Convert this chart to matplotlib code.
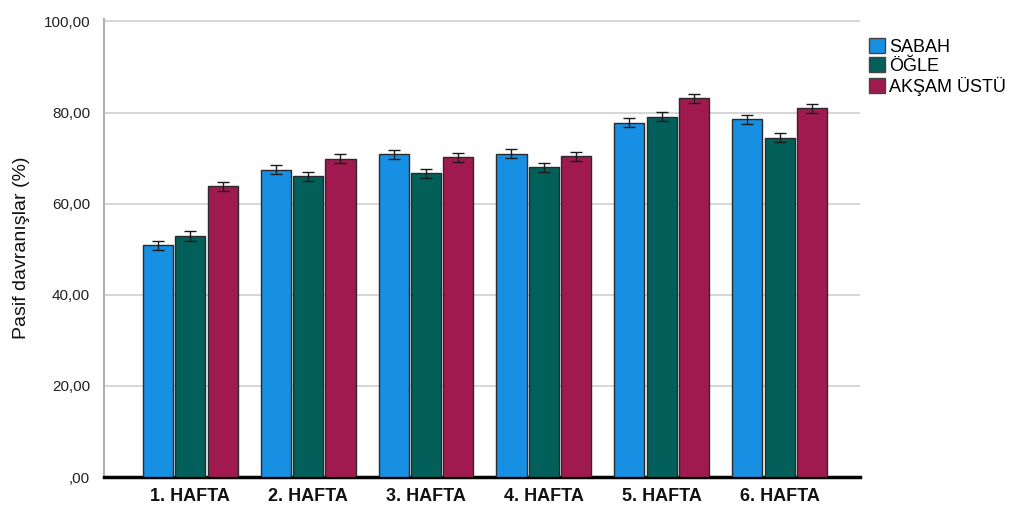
import matplotlib
matplotlib.use('Agg')
import matplotlib.pyplot as plt
import numpy as np

plt.rcParams['font.family'] = ['Liberation Sans', 'DejaVu Sans']

weeks = ['1. HAFTA', '2. HAFTA', '3. HAFTA', '4. HAFTA', '5. HAFTA', '6. HAFTA']
groups = ['SABAH', 'ÖĞLE', 'AKŞAM ÜSTÜ']
sabah = [50.9, 67.5, 70.8, 71.0, 77.8, 78.5]
ogle = [52.9, 66.0, 66.7, 68.0, 79.1, 74.5]
aksam = [63.8, 69.9, 70.2, 70.4, 83.1, 80.9]
err_sabah = [1.0, 1.0, 1.0, 1.0, 1.0, 1.0]
err_ogle = [1.0, 1.0, 1.0, 1.0, 1.0, 1.0]
err_aksam = [1.0, 1.0, 1.0, 1.0, 1.0, 1.0]

colors = ['#1790e4', '#035f59', '#a01a50']

fig = plt.figure(figsize=(10.14, 5.05), dpi=100)
ax = fig.add_axes([0.1026, 0.0554, 0.7455, 0.9066])

x = np.arange(len(weeks))
step = 0.275
width = 0.255
series = [(sabah, err_sabah), (ogle, err_ogle), (aksam, err_aksam)]
for i, (vals, errs) in enumerate(series):
    pos = x + (i - 1) * step
    ax.bar(pos, vals, width, color=colors[i], edgecolor='#2a2a2a', linewidth=1.0,
           label=groups[i], zorder=3)
    ax.errorbar(pos, vals, yerr=errs, fmt='none', ecolor='#1a1a1a', elinewidth=1.0,
                capsize=4, capthick=1.0, zorder=4)

ax.set_xlim(-0.73, 5.68)
ax.set_ylim(0, 100.5)
ax.set_yticks([0, 20, 40, 60, 80, 100])
ax.set_yticklabels([',00', '20,00', '40,00', '60,00', '80,00', '100,00'], fontsize=11, color='#222222')
ax.set_xticks(x)
ax.set_xticklabels(weeks, fontsize=13, fontweight='bold', color='#111111')
ax.tick_params(axis='x', length=0, pad=8)
ax.tick_params(axis='y', length=0, pad=10)
ax.yaxis.grid(True, color='#cfcfcf', linewidth=1.2, zorder=0)
ax.set_axisbelow(True)

for s in ['top', 'right']:
    ax.spines[s].set_visible(False)
ax.spines['left'].set_color('#b0b0b0')
ax.spines['left'].set_linewidth(1.5)
ax.spines['bottom'].set_color('black')
ax.spines['bottom'].set_linewidth(2.5)

ax.set_ylabel('Pasif davranışlar (%)', fontsize=14, color='#111111', labelpad=10)

leg = ax.legend(loc='upper left', bbox_to_anchor=(1.002, 0.975), frameon=False,
                fontsize=13, handlelength=0.9, handleheight=0.9, handletextpad=0.25,
                labelspacing=0.1, borderaxespad=0)
for h in leg.legend_handles:
    h.set_edgecolor('#444444')

fig.savefig('out.png', dpi=100)
